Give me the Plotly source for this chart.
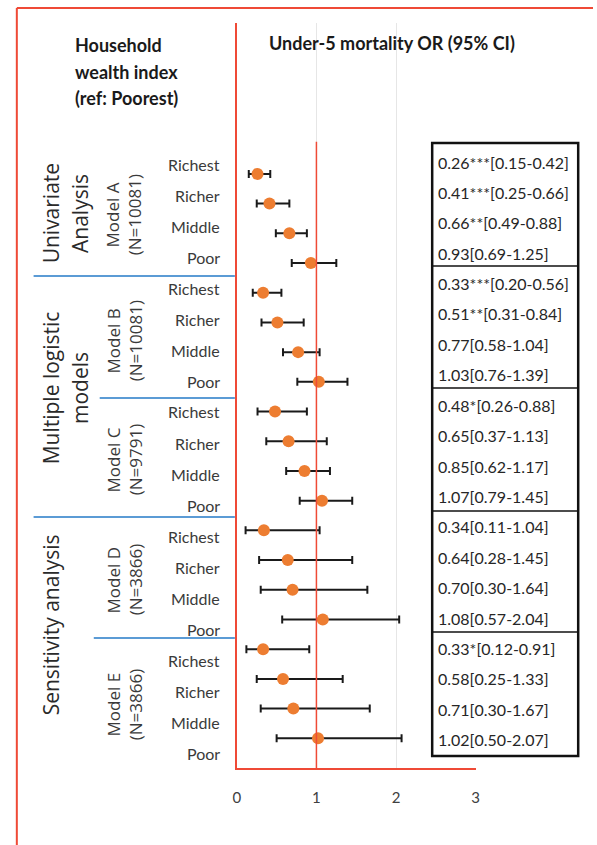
import plotly.graph_objects as go

W, H = 597, 845

# ---------------- data ----------------
categories = ["Richest", "Richer", "Middle", "Poor"]
models = ["Model A", "Model B", "Model C", "Model D", "Model E"]
model_n = ["(N=10081)", "(N=10081)", "(N=9791)", "(N=3866)", "(N=3866)"]

or_A = [0.26, 0.41, 0.66, 0.93]
lo_A = [0.15, 0.25, 0.49, 0.69]
hi_A = [0.42, 0.66, 0.88, 1.25]
sig_A = ["***", "***", "**", ""]

or_B = [0.33, 0.51, 0.77, 1.03]
lo_B = [0.20, 0.31, 0.58, 0.76]
hi_B = [0.56, 0.84, 1.04, 1.39]
sig_B = ["***", "**", "", ""]

or_C = [0.48, 0.65, 0.85, 1.07]
lo_C = [0.26, 0.37, 0.62, 0.79]
hi_C = [0.88, 1.13, 1.17, 1.45]
sig_C = ["*", "", "", ""]

or_D = [0.34, 0.64, 0.70, 1.08]
lo_D = [0.11, 0.28, 0.30, 0.57]
hi_D = [1.04, 1.45, 1.64, 2.04]
sig_D = ["", "", "", ""]

or_E = [0.33, 0.58, 0.71, 1.02]
lo_E = [0.12, 0.25, 0.30, 0.50]
hi_E = [0.91, 1.33, 1.67, 2.07]
sig_E = ["*", "", "", ""]

x_ticks = [0, 1, 2, 3]

# ---------------- helpers ----------------
def px(x):
    return x / W

def py(y):
    return 1 - y / H

ORs = or_A + or_B + or_C + or_D + or_E
LOs = lo_A + lo_B + lo_C + lo_D + lo_E
HIs = hi_A + hi_B + hi_C + hi_D + hi_E
SIGs = sig_A + sig_B + sig_C + sig_D + sig_E
n_rows = len(ORs)
ypos = [n_rows - i for i in range(n_rows)]

RED = "#EF4A36"
ORANGE = "#ED7D31"
BLUE = "#5B9BD5"
FONT = "Lato"
FONT_ROT = "Open Sans"

# plot area in pixels
X0, X1 = 236, 478
YT, YB = 23, 768
Y_TOP_VAL = 25.08

fig = go.Figure()

fig.add_trace(go.Scatter(
    x=ORs, y=ypos, mode="markers",
    marker=dict(color=ORANGE, size=12),
    error_x=dict(type="data", symmetric=False,
                 array=[h - o for h, o in zip(HIs, ORs)],
                 arrayminus=[o - l for o, l in zip(ORs, LOs)],
                 color="#1a1a1a", thickness=2, width=4),
    showlegend=False, hoverinfo="skip",
))

shapes = []
annotations = []

# reference line at OR = 1
shapes.append(dict(type="line", xref="x", yref="y", x0=1, x1=1, y0=0, y1=21.08,
                   line=dict(color=RED, width=1.5), layer="above"))

# outer frame (top and left)
shapes.append(dict(type="line", xref="paper", yref="paper", x0=px(13), x1=px(597),
                   y0=py(8), y1=py(8), line=dict(color=RED, width=2)))
shapes.append(dict(type="line", xref="paper", yref="paper", x0=px(13), x1=px(13),
                   y0=py(8), y1=py(845), line=dict(color=RED, width=2)))

# blue separators on the left
for (xa, yy) in [(30, 276), (97, 398), (30, 517), (91, 638)]:
    shapes.append(dict(type="line", xref="paper", yref="paper", x0=px(xa), x1=px(234),
                       y0=py(yy), y1=py(yy), line=dict(color=BLUE, width=2)))

# results box
BX0, BX1, BY0, BY1 = 434, 582, 143, 756
shapes.append(dict(type="rect", xref="paper", yref="paper", x0=px(BX0), x1=px(BX1),
                   y0=py(BY0), y1=py(BY1), line=dict(color="#111111", width=2.5)))
for yy in [266, 388, 511, 632]:
    shapes.append(dict(type="line", xref="paper", yref="paper", x0=px(BX0), x1=px(BX1),
                       y0=py(yy), y1=py(yy), line=dict(color="#111111", width=1.5)))

# box texts
for i in range(n_rows):
    txt = f"{ORs[i]:.2f}{SIGs[i]}[{LOs[i]:.2f}-{HIs[i]:.2f}]"
    annotations.append(dict(x=px(438), y=py(162 + 30.4 * i), xref="paper", yref="paper",
                            text=txt, showarrow=False, xanchor="left", yanchor="middle",
                            font=dict(family=FONT, size=16, color="#262626")))

# category labels
for i in range(n_rows):
    annotations.append(dict(x=px(221), y=py(164 + 31 * i), xref="paper", yref="paper",
                            text=categories[i % 4], showarrow=False, xanchor="right",
                            yanchor="middle",
                            font=dict(family=FONT, size=16, color="#3a3a3a")))

# model labels (rotated)
model_cy = [215, 341, 460, 580, 705]
for m, nn, cy in zip(models, model_n, model_cy):
    annotations.append(dict(x=px(110), y=py(cy), xref="paper", yref="paper", text=m,
                            textangle=-90, showarrow=False, xanchor="center", yanchor="middle",
                            font=dict(family=FONT_ROT, size=17, color="#3a3a3a")))
    annotations.append(dict(x=px(133), y=py(cy), xref="paper", yref="paper", text=nn,
                            textangle=-90, showarrow=False, xanchor="center", yanchor="middle",
                            font=dict(family=FONT_ROT, size=17, color="#3a3a3a")))

# group labels (rotated)
group_labels = [("Univariate", 48, 213), ("Analysis", 77, 213),
                ("Multiple logistic", 48, 388), ("models", 77, 388),
                ("Sensitivity analysis", 48, 625)]
for t, xx, cy in group_labels:
    annotations.append(dict(x=px(xx), y=py(cy), xref="paper", yref="paper", text=t,
                            textangle=-90, showarrow=False, xanchor="center", yanchor="middle",
                            font=dict(family=FONT_ROT, size=21, color="#2a2a2a")))

# headers
for t, yy in [("Household", 45), ("wealth index", 72), ("(ref: Poorest)", 98)]:
    annotations.append(dict(x=px(70), y=py(yy), xref="paper", yref="paper", text=f"<b>{t}</b>",
                            showarrow=False, xanchor="left", yanchor="middle",
                            font=dict(family=FONT, size=18, color="#1a1a1a")))
annotations.append(dict(x=px(267), y=py(43), xref="paper", yref="paper",
                        text="<b>Under-5 mortality OR (95% CI)</b>",
                        showarrow=False, xanchor="left", yanchor="middle",
                        font=dict(family=FONT, size=18, color="#1a1a1a")))

fig.update_layout(
    width=W, height=H,
    margin=dict(l=0, r=0, t=0, b=0),
    paper_bgcolor="white", plot_bgcolor="white",
    shapes=shapes, annotations=annotations,
    xaxis=dict(domain=[px(X0), px(X1)], range=[0, 3], tickvals=x_ticks,
               ticktext=[str(v) for v in x_ticks],
               showgrid=True, gridcolor="#E6E6E6", gridwidth=1,
               showline=True, linecolor=RED, linewidth=1.5,
               zeroline=False, ticks="", ticklabelstandoff=15,
               tickfont=dict(family=FONT, size=15, color="#404040")),
    yaxis=dict(domain=[py(YB), py(YT)], range=[0, Y_TOP_VAL],
               showgrid=False, zeroline=False, showticklabels=False, ticks="",
               showline=True, linecolor=RED, linewidth=2),
)

fig.write_html("out.html", config={"displayModeBar": False},
               post_script="document.body.style.margin='0';document.body.style.overflow='hidden';")
